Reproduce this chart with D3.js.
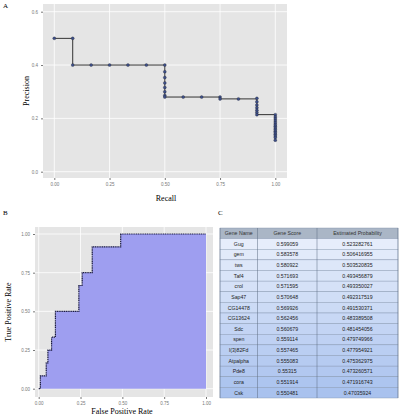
<!DOCTYPE html>
<html><head><meta charset="utf-8">
<script src="https://cdn.jsdelivr.net/npm/d3@7"></script>
<style>body{margin:0;background:#fff}text{font-family:"Liberation Serif",serif}</style>
</head><body>
<svg id="c" width="400" height="416"></svg>
<script>
// Panel A: precision-recall
var prRecall = [0, 0.0833, 0.0833, 0.1667, 0.25, 0.3333, 0.4167, 0.5, 0.5, 0.5, 0.5, 0.5, 0.5, 0.5, 0.5,
  0.5833, 0.6667, 0.75, 0.75, 0.8333, 0.9167, 0.9167, 0.9167, 0.9167, 0.9167, 0.9167, 0.9167,
  1, 1, 1, 1, 1, 1, 1, 1, 1, 1, 1, 1, 1, 1, 1];
var prPrecision = [0.5, 0.5, 0.4, 0.4, 0.4, 0.4, 0.4, 0.4, 0.375, 0.353, 0.333, 0.316, 0.3, 0.286, 0.28,
  0.28, 0.28, 0.28, 0.273, 0.273, 0.275, 0.262, 0.25, 0.24, 0.23, 0.222, 0.214,
  0.214, 0.205, 0.198, 0.19, 0.183, 0.176, 0.17, 0.164, 0.158, 0.152, 0.146, 0.14, 0.134, 0.128, 0.118];
var prXTicks = [0, 0.25, 0.5, 0.75, 1];
var prYTicks = [0, 0.2, 0.4, 0.6];

// Panel B: ROC
var rocFpr = [0, 0.01, 0.01, 0.045, 0.045, 0.055, 0.055, 0.077, 0.077, 0.1, 0.1, 0.24, 0.24, 0.26, 0.26, 0.32, 0.32, 0.49, 0.49, 1];
var rocTpr = [0, 0, 0.083, 0.083, 0.167, 0.167, 0.25, 0.25, 0.333, 0.333, 0.5, 0.5, 0.667, 0.667, 0.75, 0.75, 0.917, 0.917, 1, 1];
var rocTicks = [0, 0.25, 0.5, 0.75, 1];

// Panel C: table
var geneNames = ["Gug", "gem", "tws", "Taf4", "crol", "Sap47", "CG14478", "CG13624", "Sdc", "spen", "l(3)82Fd", "Atpalpha", "Pde8", "cora", "Csk"];
var geneScores = ["0.599059", "0.583578", "0.580922", "0.571693", "0.571595", "0.570648", "0.569926", "0.562456", "0.560679", "0.559114", "0.557465", "0.555083", "0.55315", "0.551914", "0.550481"];
var estProbs = ["0.523282761", "0.506416955", "0.503520835", "0.493456879", "0.493350027", "0.492317519", "0.491530371", "0.483389508", "0.481454056", "0.479749966", "0.477954921", "0.475362975", "0.473260571", "0.471916743", "0.47035924"];
var tableHeader = ["Gene Name", "Gene Score", "Estimated Probability"];

var svg = d3.select("#c");
var fmt = d3.format(".2f");

function panel(box, x, y, xt, yt, xfmt, yfmt) {
  var g = svg.append("g");
  g.append("rect").attr("x", box[0]).attr("y", box[1]).attr("width", box[2] - box[0]).attr("height", box[3] - box[1]).attr("fill", "#e5e5e5");
  xt.forEach(function (t) {
    g.append("line").attr("x1", x(t)).attr("x2", x(t)).attr("y1", box[1]).attr("y2", box[3]).attr("stroke", "#fff").attr("stroke-width", 0.8);
  });
  yt.forEach(function (t) {
    g.append("line").attr("y1", y(t)).attr("y2", y(t)).attr("x1", box[0]).attr("x2", box[2]).attr("stroke", "#fff").attr("stroke-width", 0.8);
  });
  g.append("g").attr("transform", "translate(0," + box[3] + ")")
    .call(d3.axisBottom(x).tickValues(xt).tickFormat(xfmt).tickSize(2).tickPadding(3))
    .call(function (a) { a.select(".domain").remove(); a.selectAll("text").attr("fill", "#777").style("font-family", "Liberation Sans").style("font-size", "4.5px"); a.selectAll("line").attr("stroke", "#777"); });
  g.append("g").attr("transform", "translate(" + box[0] + ",0)")
    .call(d3.axisLeft(y).tickValues(yt).tickFormat(yfmt).tickSize(2).tickPadding(3))
    .call(function (a) { a.select(".domain").remove(); a.selectAll("text").attr("fill", "#777").style("font-family", "Liberation Sans").style("font-size", "4.5px"); a.selectAll("line").attr("stroke", "#777"); });
  return g;
}

// A
var xA = d3.scaleLinear().domain([0, 1]).range([54.3, 275.3]);
var yA = d3.scaleLinear().domain([0, 0.6]).range([171.7, 11.7]);
var gA = panel([43, 4, 287, 178], xA, yA, prXTicks, prYTicks, fmt, d3.format(".1f"));
var prPts = prRecall.map(function (r, i) { return [r, prPrecision[i]]; });
gA.append("path").datum(prPts)
  .attr("d", d3.line().x(function (d) { return xA(d[0]); }).y(function (d) { return yA(d[1]); }).curve(d3.curveStepAfter))
  .attr("fill", "none").attr("stroke", "#333").attr("stroke-width", 1);
gA.selectAll("circle").data(prPts).enter().append("circle")
  .attr("cx", function (d) { return xA(d[0]); }).attr("cy", function (d) { return yA(d[1]); })
  .attr("r", 1.5).attr("fill", "#3d4f8a").attr("stroke", "#222").attr("stroke-width", 0.3);
svg.append("text").attr("x", 166).attr("y", 201).attr("text-anchor", "middle").attr("font-size", 8).text("Recall");
svg.append("text").attr("transform", "translate(29,91) rotate(-90)").attr("text-anchor", "middle").attr("font-size", 8).text("Precision");
svg.append("text").attr("x", 3).attr("y", 8).attr("font-size", 7).text("A");

// B
var xB = d3.scaleLinear().domain([0, 1]).range([38.7, 206]);
var yB = d3.scaleLinear().domain([0, 1]).range([388.7, 234]);
var gB = panel([35, 227, 213, 397], xB, yB, rocTicks, rocTicks, fmt, fmt);
var rocPts = rocFpr.map(function (f, i) { return [f, rocTpr[i]]; });
gB.append("path").datum(rocPts)
  .attr("d", d3.area().x(function (d) { return xB(d[0]); }).y0(yB(0)).y1(function (d) { return yB(d[1]); }))
  .attr("fill", "#9e9ef0");
gB.append("path").datum(rocPts)
  .attr("d", d3.line().x(function (d) { return xB(d[0]); }).y(function (d) { return yB(d[1]); }))
  .attr("fill", "none").attr("stroke", "#1a1a40").attr("stroke-width", 1.2).attr("stroke-dasharray", "1.2,0.6");
svg.append("text").attr("x", 122).attr("y", 414).attr("text-anchor", "middle").attr("font-size", 8).text("False Positive Rate");
svg.append("text").attr("transform", "translate(11,312) rotate(-90)").attr("text-anchor", "middle").attr("font-size", 8).text("True  Positive Rate");
svg.append("text").attr("x", 3).attr("y", 215).attr("font-size", 7).text("B");

// C
svg.append("text").attr("x", 218).attr("y", 215).attr("font-size", 7).text("C");
var cols = [220, 257.5, 317, 398];
var rowH = (398 - 228) / 16;
var shade = d3.scaleLinear().domain([0, 14]).range(["#e6edfb", "#a9c2ee"]);
var gC = svg.append("g").style("font-family", "Liberation Sans").style("font-size", "5.2px");
var rows = [tableHeader].concat(geneNames.map(function (n, i) { return [n, geneScores[i], estProbs[i]]; }));
rows.forEach(function (r, i) {
  var y0 = 228 + i * rowH;
  gC.append("rect").attr("x", cols[0]).attr("y", y0).attr("width", cols[3] - cols[0]).attr("height", rowH)
    .attr("fill", i === 0 ? "#aab6c6" : shade(i - 1)).attr("stroke", "#7f8fa8").attr("stroke-width", 0.4);
  r.forEach(function (v, j) {
    gC.append("text").attr("x", (cols[j] + cols[j + 1]) / 2).attr("y", y0 + rowH / 2 + 1.9)
      .attr("text-anchor", "middle").attr("fill", i === 0 ? "#333" : "#222").style("font-family", "Liberation Sans").text(v);
  });
});
cols.forEach(function (c) {
  gC.append("line").attr("x1", c).attr("x2", c).attr("y1", 228).attr("y2", 398).attr("stroke", "#5a6a80").attr("stroke-width", 0.5);
});
</script>
</body></html>
